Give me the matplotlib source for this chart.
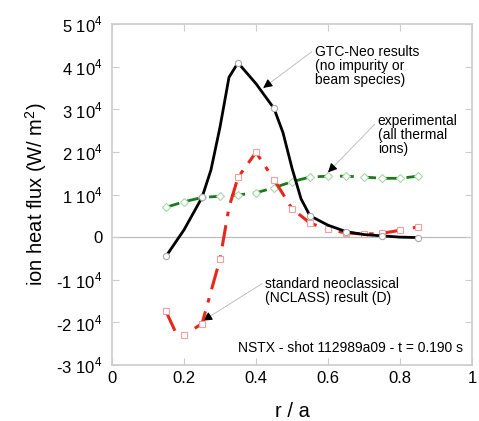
import matplotlib
matplotlib.use('Agg')
import matplotlib.pyplot as plt

plt.rcParams['font.family'] = ['Liberation Sans', 'DejaVu Sans']
plt.rcParams['mathtext.fontset'] = 'custom'
plt.rcParams['mathtext.rm'] = 'Liberation Sans'

# GTC-Neo results (curve, markers every 0.1)
r_gtc = [0.15, 0.2, 0.25, 0.275, 0.3, 0.325, 0.35, 0.4, 0.45, 0.475, 0.5, 0.525,
         0.55, 0.6, 0.65, 0.7, 0.75, 0.8, 0.85]
q_gtc = [-4500, 1700, 9300, 15800, 25800, 37500, 40900, 36000, 30200, 24500, 16200,
         9000, 5000, 2800, 1300, 600, 300, 0, -100]

# experimental
r_exp = [0.15, 0.2, 0.25, 0.3, 0.35, 0.4, 0.45, 0.5, 0.55, 0.6, 0.65, 0.7, 0.75, 0.8, 0.85]
q_exp = [7000, 8300, 9300, 9600, 9900, 10400, 11600, 13000, 14100, 14300, 14300,
         14100, 13800, 13800, 14300]

# standard neoclassical (NCLASS)
r_ncl = [0.15, 0.175, 0.2, 0.25, 0.3, 0.325, 0.35, 0.4, 0.45, 0.5, 0.55, 0.6, 0.65,
         0.7, 0.75, 0.8, 0.85]
q_ncl = [-17400, -22000, -23000, -20300, -5200, 7000, 14000, 19900, 13500, 6700, 3300,
         1800, 1000, 700, 900, 1600, 2400]

xticks = [0, 0.2, 0.4, 0.6, 0.8, 1]
xticklabels = ['0', '0.2', '0.4', '0.6', '0.8', '1']
yticks = [-30000, -20000, -10000, 0, 10000, 20000, 30000, 40000, 50000]
yticklabels = ['-3 10$^4$', '-2 10$^4$', '-1 10$^4$', '0', '1 10$^4$',
               '2 10$^4$', '3 10$^4$', '4 10$^4$', '5 10$^4$']


def marks_at(r, step):
    return [i for i, v in enumerate(r) if abs(round(v / step) * step - v) < 1e-9]


fig = plt.figure(figsize=(4.79, 4.21), dpi=100)
ax = fig.add_axes([0.2338, 0.133, 0.7516, 0.81])

ax.axhline(0, color='#bbbbbb', lw=0.9, zorder=1)

ax.plot(r_exp, q_exp, color='#1b7a1b', lw=2, dashes=(5, 3), marker='D', ms=4,
        mfc='white', mec='#a8d8a8', mew=0.8, zorder=3)
ax.plot(r_ncl, q_ncl, color='#e8261a', lw=2.2, dashes=(7, 3, 1.5, 3), marker='s', ms=5,
        markevery=marks_at(r_ncl, 0.05),
        mfc='white', mec='#f2a0a0', mew=0.8, zorder=4)
ax.plot(r_gtc, q_gtc, color='black', lw=2, marker='o', ms=4.5,
        markevery=[i for i in marks_at(r_gtc, 0.05) if round(r_gtc[i] * 100) % 10 == 5],
        mfc='white', mec='#aaaaaa', mew=0.8, zorder=5)

ax.set_xlim(0, 1)
ax.set_ylim(-30000, 50000)
ax.set_xticks(xticks)
ax.set_xticklabels(xticklabels)
ax.set_yticks(yticks)
ax.set_yticklabels(yticklabels)
ax.tick_params(direction='in', length=5, color='#cccccc', labelsize=12,
               top=True, right=True)
ax.tick_params(axis='x', pad=4)
ax.tick_params(axis='y', pad=7)
for s in ax.spines.values():
    s.set_color('#cccccc')
    s.set_linewidth(1.2)

ax.set_xlabel('r / a', fontsize=14.5, labelpad=12)
ax.set_ylabel('ion heat flux (W/ m$^2$)', fontsize=14.5, labelpad=5)

line = dict(arrowstyle='-', color='#c0c0c0', lw=0.7, shrinkA=0, shrinkB=0)
head = dict(arrowstyle='-|>', color='black', lw=0.8, mutation_scale=13,
            shrinkA=0, shrinkB=0)


def callout(text, xy, xytext, start):
    ax.annotate(text, xy=xytext, fontsize=10, va='top', ha='left', linespacing=1.0)
    ax.annotate('', xy=xy, xytext=start, arrowprops=line)
    dx = (start[0] - xy[0]) * 0.12
    dy = (start[1] - xy[1]) * 0.12
    ax.annotate('', xy=xy, xytext=(xy[0] + dx, xy[1] + dy), arrowprops=head)


callout('GTC-Neo results\n(no impurity or\nbeam species)', (0.42, 35000),
        (0.565, 45000), (0.555, 43500))
callout('experimental\n(all thermal\nions)', (0.6, 15200),
        (0.738, 29000), (0.73, 26500))
callout('standard neoclassical\n(NCLASS) result (D)', (0.253, -19600),
        (0.425, -9300), (0.417, -10900))

ax.text(0.975, -25900, 'NSTX - shot 112989a09 - t = 0.190 s', fontsize=10,
        ha='right', va='center')

fig.savefig('out.png', dpi=100)
